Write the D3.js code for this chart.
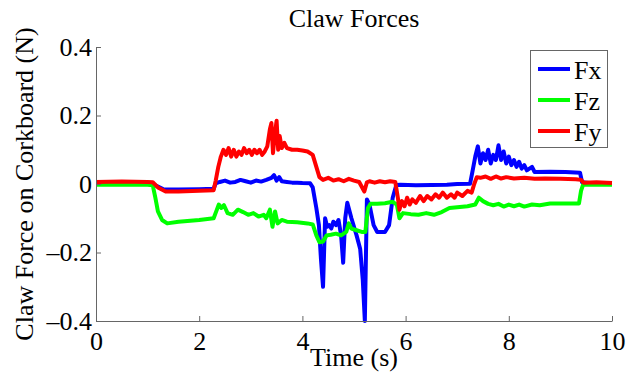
<!DOCTYPE html>
<html>
<head>
<meta charset="utf-8">
<script src="https://cdn.jsdelivr.net/npm/d3@7"></script>
<style>
  body { margin: 0; background: #fff; }
  svg text { font-family: "Liberation Serif", "Times New Roman", serif; fill: #000; }
</style>
</head>
<body>
<svg id="chart" width="635" height="378"></svg>
<script>
// [time (s), force (N)]
const fx = [[0,0],[0.5,0.001],[1.0,0],[1.1,0],[1.3,-0.015],[1.6,-0.016],[2.0,-0.015],[2.28,-0.014],
  [2.32,0.002],[2.4,0.006],[2.5,0.01],[2.6,0.004],[2.7,0.006],[2.8,0.012],[2.9,0.008],[3.0,0.004],
  [3.1,0.01],[3.2,0.007],[3.3,0.012],[3.4,0.018],[3.45,0.026],[3.5,0.01],[3.55,0.02],[3.6,0.008],
  [3.7,0.006],[3.8,0.004],[3.9,0.004],[4.0,0.003],[4.15,0.002],[4.2,-0.01],[4.27,-0.07],[4.32,-0.12],
  [4.36,-0.22],[4.4,-0.3],[4.44,-0.1],[4.48,-0.125],[4.52,-0.12],[4.56,-0.13],[4.6,-0.11],[4.65,-0.12],
  [4.7,-0.105],[4.75,-0.15],[4.79,-0.23],[4.83,-0.1],[4.87,-0.055],[4.95,-0.1],[5.05,-0.15],[5.12,-0.19],
  [5.17,-0.28],[5.21,-0.4],[5.25,-0.045],[5.3,-0.06],[5.38,-0.12],[5.45,-0.14],[5.6,-0.14],[5.68,-0.12],
  [5.75,-0.04],[5.82,-0.003],[5.9,-0.002],[6.2,-0.004],[6.5,-0.003],[6.8,-0.002],[7.0,0.0],[7.25,0.001],
  [7.3,0.04],[7.35,0.08],[7.4,0.11],[7.45,0.06],[7.5,0.09],[7.55,0.07],[7.6,0.1],[7.65,0.06],[7.7,0.085],
  [7.75,0.07],[7.8,0.113],[7.85,0.07],[7.9,0.095],[7.95,0.06],[8.0,0.08],[8.05,0.055],[8.1,0.07],
  [8.15,0.05],[8.2,0.065],[8.25,0.045],[8.3,0.055],[8.35,0.04],[8.45,0.05],[8.5,0.035],[8.8,0.036],
  [9.1,0.035],[9.38,0.033],[9.42,0.005],[9.6,0.002],[10,0.002]];

const fz = [[0,-0.002],[1.0,-0.002],[1.1,-0.004],[1.15,-0.04],[1.2,-0.08],[1.28,-0.105],[1.38,-0.115],
  [1.6,-0.11],[2.0,-0.105],[2.28,-0.1],[2.33,-0.08],[2.38,-0.06],[2.43,-0.07],[2.48,-0.062],[2.55,-0.085],
  [2.65,-0.09],[2.75,-0.075],[2.85,-0.082],[2.95,-0.09],[3.05,-0.085],[3.15,-0.095],[3.25,-0.09],[3.3,-0.1],
  [3.37,-0.075],[3.42,-0.125],[3.47,-0.08],[3.52,-0.115],[3.6,-0.105],[3.7,-0.11],[3.9,-0.112],[4.1,-0.115],
  [4.2,-0.118],[4.27,-0.15],[4.33,-0.17],[4.4,-0.168],[4.47,-0.15],[4.55,-0.148],[4.65,-0.145],[4.75,-0.15],
  [4.85,-0.14],[4.9,-0.115],[4.95,-0.13],[5.05,-0.135],[5.15,-0.14],[5.22,-0.14],[5.27,-0.07],[5.32,-0.058],
  [5.45,-0.058],[5.6,-0.056],[5.75,-0.052],[5.83,-0.06],[5.88,-0.1],[5.95,-0.085],[6.1,-0.088],[6.25,-0.09],
  [6.4,-0.085],[6.55,-0.09],[6.7,-0.082],[6.85,-0.07],[7.0,-0.068],[7.2,-0.065],[7.35,-0.06],[7.42,-0.04],
  [7.5,-0.05],[7.6,-0.058],[7.7,-0.062],[7.8,-0.058],[7.9,-0.066],[8.0,-0.06],[8.1,-0.065],[8.2,-0.06],
  [8.3,-0.066],[8.45,-0.06],[8.6,-0.062],[8.8,-0.057],[9.0,-0.057],[9.2,-0.057],[9.36,-0.057],[9.4,-0.02],
  [9.44,-0.002],[10,-0.002]];

const fy = [[0,0.006],[0.5,0.007],[1.0,0.006],[1.1,0.005],[1.2,-0.01],[1.35,-0.022],[1.6,-0.022],[2.0,-0.02],
  [2.28,-0.018],[2.32,0.01],[2.37,0.05],[2.42,0.08],[2.47,0.1],[2.52,0.085],[2.57,0.105],[2.62,0.08],
  [2.67,0.1],[2.72,0.08],[2.77,0.095],[2.82,0.085],[2.87,0.105],[2.92,0.09],[2.97,0.1],[3.02,0.085],
  [3.07,0.1],[3.12,0.09],[3.17,0.1],[3.22,0.085],[3.27,0.095],[3.32,0.11],[3.37,0.16],[3.4,0.178],
  [3.43,0.09],[3.47,0.15],[3.5,0.185],[3.53,0.1],[3.56,0.14],[3.6,0.105],[3.65,0.12],[3.7,0.105],[3.8,0.1],
  [3.9,0.1],[4.0,0.098],[4.1,0.095],[4.2,0.085],[4.27,0.05],[4.33,0.02],[4.4,0.012],[4.5,0.018],[4.6,0.01],
  [4.7,0.014],[4.8,0.008],[4.9,0.015],[5.0,0.01],[5.1,0.006],[5.2,-0.022],[5.25,0.005],[5.3,0.008],
  [5.4,0.004],[5.5,0.008],[5.6,0.005],[5.7,0.008],[5.8,0.006],[5.85,-0.04],[5.88,-0.075],[5.93,-0.05],
  [5.98,-0.065],[6.03,-0.04],[6.08,-0.06],[6.13,-0.045],[6.2,-0.055],[6.28,-0.035],[6.35,-0.05],[6.42,-0.035],
  [6.5,-0.045],[6.58,-0.03],[6.65,-0.04],[6.72,-0.025],[6.8,-0.04],[6.88,-0.03],[6.95,-0.04],[7.0,-0.025],
  [7.1,-0.035],[7.2,-0.02],[7.28,-0.025],[7.33,0.0],[7.38,0.02],[7.45,0.018],[7.55,0.022],[7.65,0.015],
  [7.75,0.022],[7.85,0.016],[7.95,0.02],[8.1,0.016],[8.3,0.018],[8.5,0.015],[8.7,0.016],[9.0,0.015],
  [9.3,0.014],[9.4,0.012],[9.45,0.004],[9.7,0.005],[10,0.003]];

const seriesNames = ["Fx", "Fz", "Fy"];
const seriesColors = ["#0000ff", "#00ff00", "#ff0000"];
const xTicks = [0, 2, 4, 6, 8, 10];
const yTicks = [-0.4, -0.2, 0, 0.2, 0.4];

const font = '"Liberation Serif", "Times New Roman", serif';
const margin = {top: 47, right: 23, bottom: 57, left: 96};
const svg = d3.select("#chart");
const width = +svg.attr("width");
const height = +svg.attr("height");

const x = d3.scaleLinear()
  .domain([0, 10])
  .range([margin.left, width - margin.right]);
const y = d3.scaleLinear()
  .domain([-0.4, 0.4])
  .range([height - margin.bottom, margin.top]);

const line = d3.line()
  .x(d => x(d[0]))
  .y(d => y(d[1]));

// plotted in legend order so Fy ends up on top
svg.append("g")
  .selectAll("path")
  .data([fx, fz, fy])
  .enter().append("path")
    .attr("fill", "none")
    .attr("stroke", (d, i) => seriesColors[i])
    .attr("stroke-width", 4)
    .attr("stroke-linejoin", "round")
    .attr("d", line);

// axes, ticks pointing inward like matlab
const fmt = d => String(d).replace("-", "\u2013");
const xAxis = svg.append("g")
  .attr("transform", `translate(0,${height - margin.bottom})`)
  .call(d3.axisBottom(x).tickValues(xTicks).tickFormat(fmt)
    .tickSizeInner(-5).tickSizeOuter(0).tickPadding(11));
const yAxis = svg.append("g")
  .attr("transform", `translate(${margin.left},0)`)
  .call(d3.axisLeft(y).tickValues(yTicks).tickFormat(fmt)
    .tickSizeInner(-5).tickSizeOuter(0).tickPadding(4));

[xAxis, yAxis].forEach(a => {
  a.attr("font-family", font).attr("font-size", 26);
  a.selectAll("path, line").attr("stroke", "#666");
  a.selectAll("text").attr("fill", "#000");
});

// title and labels
svg.append("text")
  .attr("x", (margin.left + width - margin.right) / 2)
  .attr("y", 27)
  .attr("text-anchor", "middle")
  .style("font-size", "26px")
  .text("Claw Forces");

svg.append("text")
  .attr("x", (margin.left + width - margin.right) / 2)
  .attr("y", 366)
  .attr("text-anchor", "middle")
  .style("font-size", "26px")
  .text("Time (s)");

svg.append("text")
  .attr("transform", `translate(33,${(margin.top + height - margin.bottom) / 2}) rotate(-90)`)
  .attr("text-anchor", "middle")
  .style("font-size", "26px")
  .text("Claw Force on Corkboard (N)");

// legend
const legend = svg.append("g");
legend.append("rect")
  .attr("x", 530.5).attr("y", 50.5)
  .attr("width", 77).attr("height", 97)
  .attr("fill", "#fff")
  .attr("stroke", "#666");

const items = legend.selectAll("g.item")
  .data(seriesNames)
  .enter().append("g")
    .attr("class", "item")
    .attr("transform", (d, i) => `translate(0,${69 + i * 31})`);
items.append("line")
  .attr("x1", 538).attr("x2", 570)
  .attr("stroke", (d, i) => seriesColors[i])
  .attr("stroke-width", 4);
items.append("text")
  .attr("x", 574)
  .attr("y", 10)
  .style("font-size", "26px")
  .text(d => d);
</script>
</body>
</html>
